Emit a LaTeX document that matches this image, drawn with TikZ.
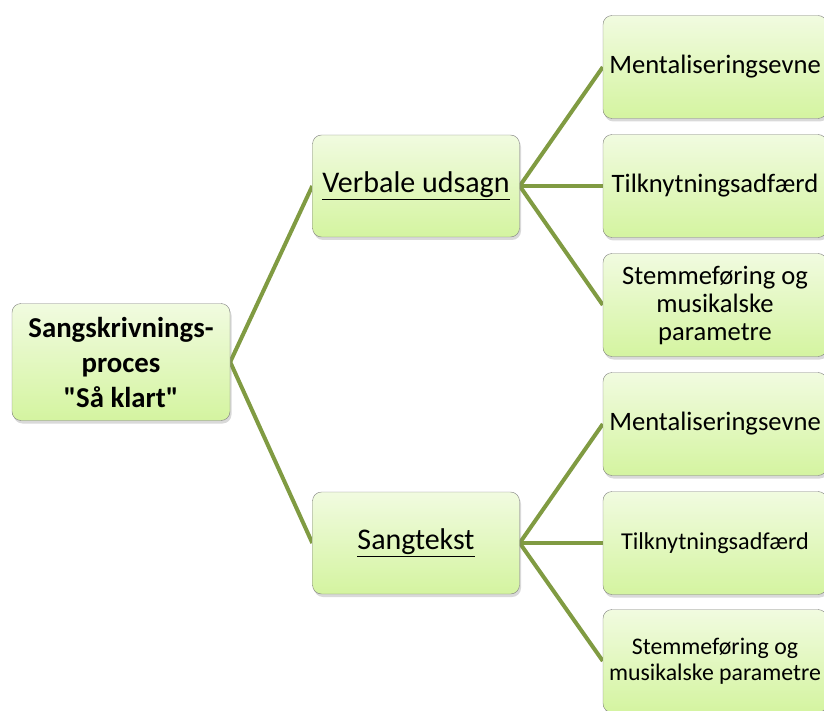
\documentclass[tikz,border=0pt]{standalone}
\usepackage{fontspec}
\setmainfont{Carlito}[Ligatures=TeXOff]
\usetikzlibrary{positioning, shadows, backgrounds}
\definecolor{lgreen}{RGB}{241,251,224}
\definecolor{dgreen}{RGB}{212,244,160}
\definecolor{olive}{RGB}{128,155,66}

\begin{document}
\begin{tikzpicture}[x=1pt, y=-1pt,
  box/.style={rectangle, rounded corners=9pt, draw=black!50, top color=lgreen,
              bottom color=dgreen, align=center, inner sep=0pt,
              drop shadow={shadow xshift=1.5pt, shadow yshift=-3pt, opacity=0.3}},
  rootbox/.style={box, minimum width=218pt, minimum height=117pt,
                  font=\fontsize{28.8}{35}\selectfont\bfseries},
  midbox/.style={box, minimum width=207pt, minimum height=102pt,
                 font=\fontsize{30}{34}\selectfont},
  leafbox/.style={box, minimum width=224pt, minimum height=103pt,
                  font=\fontsize{26.6}{28}\selectfont},
  conn/.style={draw=olive, line width=4pt}
]
\useasboundingbox (0,0) rectangle (824,711);

\node[rootbox] (root) at (121,362) {Sangskrivnings-\\proces\\"Så klart"};
\node[midbox] (verb) at (416,186) {\underline{Verbale udsagn}};
\node[midbox] (sang) at (416,543) {\underline{Sangtekst}};

\node[leafbox] (v1) at (715,67)  {Mentaliseringsevne};
\node[leafbox] (v2) at (715,186) {Tilknytningsadfærd};
\node[leafbox] (v3) at (715,305) {Stemmeføring og\\musikalske\\parametre};

\node[leafbox] (s1) at (715,424) {Mentaliseringsevne};
\node[leafbox, font=\fontsize{24.2}{28}\selectfont] (s2) at (715,543) {Tilknytningsadfærd};
\node[leafbox, font=\fontsize{23.8}{26}\selectfont] (s3) at (715,661) {Stemmeføring og\\musikalske parametre};

% connectors
\begin{scope}[on background layer]
\draw[conn] (verb.west) -- (root.east) -- (sang.west);
\draw[conn] (v1.west) -- (verb.east) -- (v3.west);
\draw[conn] (verb.east) -- (v2.west);
\draw[conn] (s1.west) -- (sang.east) -- (s3.west);
\draw[conn] (sang.east) -- (s2.west);
\end{scope}
\end{tikzpicture}
\end{document}
